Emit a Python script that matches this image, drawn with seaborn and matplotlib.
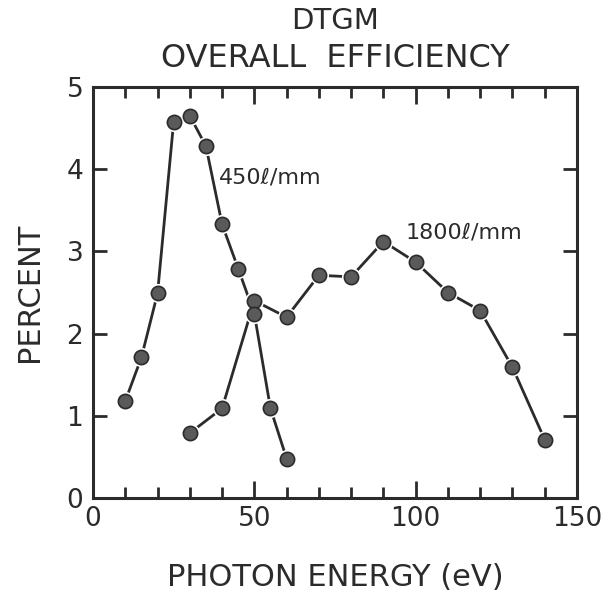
import matplotlib
matplotlib.use("Agg")
import matplotlib.pyplot as plt
import seaborn as sns
import pandas as pd
from matplotlib.ticker import MultipleLocator

# Grating efficiency measurements (percent) vs photon energy (eV)
energy_450 = [10, 15, 20, 25, 30, 35, 40, 45, 50, 55, 60]
eff_450 = [1.18, 1.71, 2.49, 4.58, 4.65, 4.28, 3.33, 2.79, 2.24, 1.09, 0.48]

energy_1800 = [30, 40, 50, 60, 70, 80, 90, 100, 110, 120, 130, 140]
eff_1800 = [0.79, 1.09, 2.40, 2.20, 2.71, 2.69, 3.12, 2.87, 2.50, 2.28, 1.59, 0.71]

labels = ["450\u2113/mm", "1800\u2113/mm"]

df = pd.concat([
    pd.DataFrame({"energy": energy_1800, "eff": eff_1800, "grating": labels[1]}),
    pd.DataFrame({"energy": energy_450, "eff": eff_450, "grating": labels[0]}),
])

sns.set_style("ticks")
plt.rcParams["font.family"] = ["DejaVu Sans"]

ink = "#2b2b2b"
fig = plt.figure(figsize=(6.08, 6.0), dpi=100)
ax = fig.add_axes([0.153, 0.170, 0.796, 0.685])

for name in [labels[1], labels[0]]:
    sub = df[df["grating"] == name]
    sns.lineplot(data=sub, x="energy", y="eff", ax=ax, color=ink,
                 linewidth=2.0, sort=False, legend=False, zorder=2)
    # white halo leaves a small gap where lines meet the dots
    sns.scatterplot(data=sub, x="energy", y="eff", ax=ax, color="white",
                    s=190, linewidth=0, legend=False, zorder=3)
    sns.scatterplot(data=sub, x="energy", y="eff", ax=ax, color="#5a5a5a",
                    edgecolor=ink, linewidth=1.2, s=105, legend=False, zorder=4)

ax.set_xlim(0, 150)
ax.set_ylim(0, 5)
ax.xaxis.set_major_locator(MultipleLocator(50))
ax.xaxis.set_minor_locator(MultipleLocator(10))
ax.yaxis.set_major_locator(MultipleLocator(1))
ax.tick_params(axis="both", which="both", direction="in", top=True, right=True,
               color=ink, width=2.0)
ax.tick_params(axis="x", which="major", length=12, labelsize=19, pad=6, labelcolor=ink)
ax.tick_params(axis="x", which="minor", length=8)
ax.tick_params(axis="y", which="major", length=10, labelsize=19, pad=7, labelcolor=ink)
for s in ax.spines.values():
    s.set_linewidth(2.2)
    s.set_color(ink)

ax.set_xlabel("PHOTON ENERGY (eV)", fontsize=22, color=ink, labelpad=22)
ax.set_ylabel("PERCENT", fontsize=22, color=ink, labelpad=16)

ax.text(39, 3.9, labels[0], fontsize=16, color=ink, ha="left", va="center")
ax.text(97, 3.23, labels[1], fontsize=16, color=ink, ha="left", va="center")

fig.text(0.551, 0.965, "DTGM", fontsize=21, color=ink, ha="center", va="center")
fig.text(0.551, 0.903, "OVERALL  EFFICIENCY", fontsize=23, color=ink,
         ha="center", va="center")

fig.savefig("out.png", dpi=100, facecolor="white")
